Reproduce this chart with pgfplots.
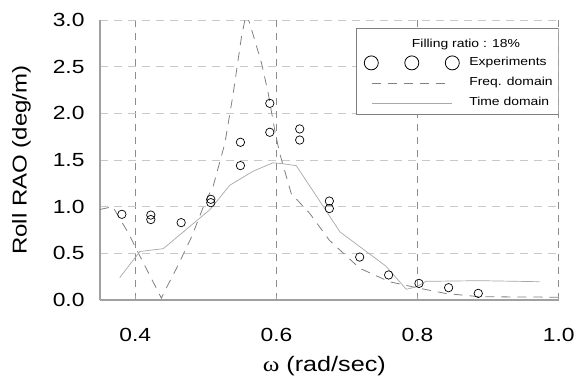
\documentclass[border=0pt]{standalone}
\usepackage{pgfplots}
\pgfplotsset{compat=1.18}
\usepackage{fontspec}
\setmainfont{Liberation Sans}[FakeStretch=1.2]
\newfontfamily\seriffont{Liberation Serif}[FakeStretch=1.2]
\definecolor{axgray}{HTML}{A0A0A0}
\definecolor{gridh}{HTML}{C8C8C8}
\definecolor{gridv}{HTML}{8C8C8C}
\definecolor{freqc}{HTML}{808080}
\definecolor{timec}{HTML}{A8A8A8}
\pgfplotstableread{
x y
0.381 0.918
0.422 0.910
0.422 0.862
0.465 0.829
0.507 1.079
0.507 1.043
0.549 1.690
0.549 1.440
0.5906 2.107
0.5906 1.797
0.633 1.833
0.633 1.714
0.675 1.060
0.675 0.980
0.718 0.460
0.759 0.268
0.802 0.178
0.844 0.132
0.886 0.071
}\expdata
\pgfplotstableread{
x y
0.350 0.97
0.368 1.00
0.390 0.72
0.410 0.42
0.437 0.02
0.442 0.10
0.4585 0.34
0.480 0.68
0.4986 1.04
0.5104 1.22
0.527 1.68
0.5387 2.21
0.5505 2.82
0.557 3.06
0.562 2.97
0.5788 2.54
0.588 2.23
0.5976 1.82
0.6047 1.57
0.621 1.14
0.647 0.93
0.675 0.64
0.718 0.34
0.760 0.196
0.803 0.125
0.840 0.070
0.888 0.035
1.000 0.030
}\freqdata
\pgfplotstableread{
x y
0.378 0.24
0.4066 0.52
0.4396 0.55
0.506 0.97
0.534 1.23
0.567 1.38
0.595 1.47
0.609 1.46
0.628 1.44
0.657 1.11
0.690 0.73
0.755 0.364
0.784 0.115
0.798 0.14
0.812 0.20
0.888 0.207
0.973 0.196
}\timedata
\begin{document}
\begin{tikzpicture}[x=1pt,y=1pt]
\path[use as bounding box] (0,0) rectangle (576,376);
\begin{axis}[
  at={(100pt,76pt)}, anchor=south west,
  scale only axis, width=458.7pt, height=280pt,
  xmin=0.35, xmax=1.0, ymin=0, ymax=3.0,
  xtick={0.4,0.6,0.8,1.0}, ytick={0,0.5,1.0,1.5,2.0,2.5,3.0},
  xticklabels={0.4,0.6,0.8,1.0},
  yticklabels={0.0,0.5,1.0,1.5,2.0,2.5,3.0},
  axis x line*=bottom, axis y line*=left,
  axis line style={axgray, line width=1.2pt, -},
  tick align=inside,
  xtick style={axgray, line width=0.8pt},
  ytick style={draw=none},
  major tick length=4pt,
  grid=major,
  x grid style={gridv, line width=0.7pt, dash pattern=on 7pt off 6pt},
  y grid style={gridh, line width=0.7pt, dash pattern=on 8pt off 6pt},
  tick label style={font=\fontsize{19}{22}\selectfont, black},
  xticklabel style={anchor=base, yshift=-41.7pt},
  yticklabel style={anchor=east, xshift=-12pt},
  xlabel={{\seriffont ω} (rad/sec)},
  ylabel={Roll RAO (deg/m)},
  label style={font=\fontsize{20}{24}\selectfont},
  xlabel style={font=\fontsize{21}{24}\selectfont, at={(axis description cs:0.489,-0.256)}, anchor=base},
  ylabel style={at={(axis description cs:-0.16,0.5)}, anchor=base, rotate=0},
  legend style={draw=none, fill=none, at={(rel axis cs:0.5749,0.874)}, anchor=north west,
    inner sep=0pt, column sep=9.6pt, row sep=6pt,
    font=\fontsize{11.6}{13}\selectfont,
    nodes={inner sep=0pt, text height=9.5pt, text depth=4.5pt}},
  legend cell align=left,
  clip=true,
]
\addplot[freqc, line width=0.8pt, dash pattern=on 9pt off 7pt, forget plot] table {\freqdata};
\addplot[timec, line width=0.7pt, forget plot] table {\timedata};
\addplot[only marks, mark=o, mark size=4.2pt, mark options={black, line width=0.7pt}, forget plot] table {\expdata};
\draw[gray, line width=0.8pt, fill=white] (rel axis cs:0.558,0.664) rectangle (rel axis cs:1.0,0.971);
\node[font=\fontsize{11.6}{13}\selectfont, anchor=center] at (rel axis cs:0.7978,0.912) {Filling ratio : 18\%};
\addlegendimage{legend image code/.code={
  \path[draw=none, fill=none] (0pt,-7pt) rectangle (95pt,7pt);
  \draw[solid, black, line width=0.8pt, fill=none] (7pt,0pt) circle (7pt) (47.5pt,0pt) circle (7pt) (88pt,0pt) circle (7pt);}}
\addlegendentry{Experiments}
\addlegendimage{legend image code/.code={
  \path[draw=none, fill=none] (0pt,-7pt) rectangle (95pt,7pt);
  \draw[freqc, line width=0.8pt, dash pattern=on 9pt off 7pt] (8pt,0pt) -- (82pt,0pt);}}
\addlegendentry{Freq. domain}
\addlegendimage{legend image code/.code={
  \path[draw=none, fill=none] (0pt,-7pt) rectangle (95pt,7pt);
  \draw[timec, line width=0.8pt, solid] (8pt,0pt) -- (88pt,0pt);}}
\addlegendentry{Time domain}
\end{axis}
\end{tikzpicture}
\end{document}
